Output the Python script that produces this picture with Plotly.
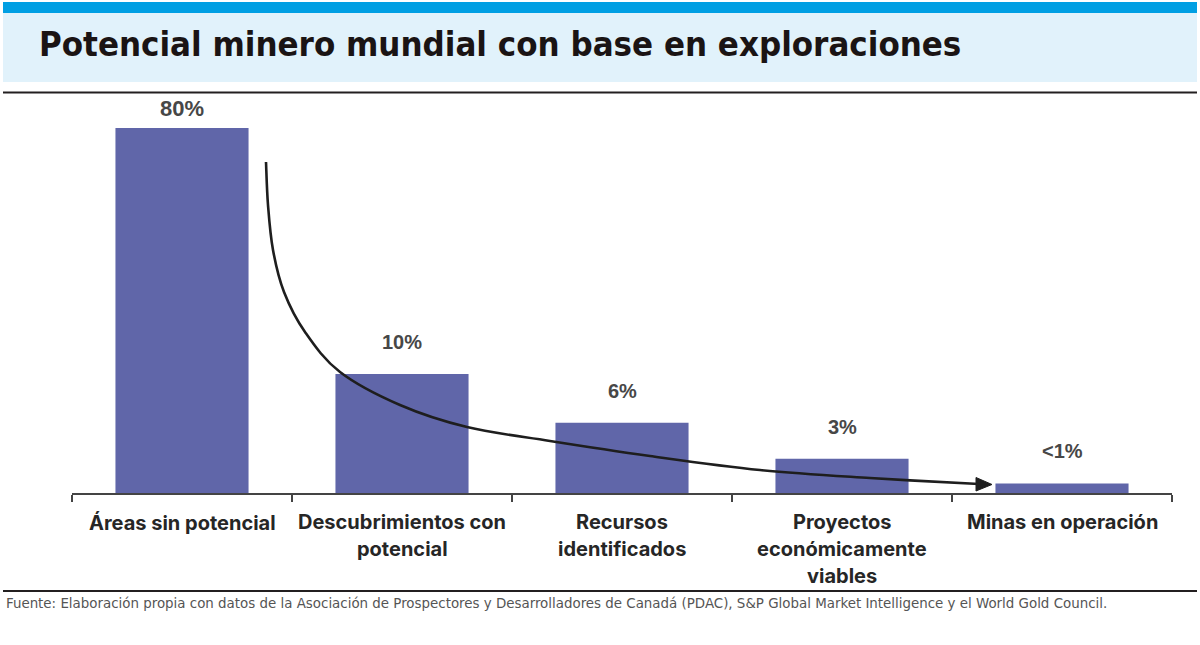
import plotly.graph_objects as go

# ---------------- data ----------------
categories = ["Áreas sin potencial", "Descubrimientos con potencial", "Recursos identificados",
              "Proyectos económicamente viables", "Minas en operación"]
category_lines = [["Áreas sin potencial"], ["Descubrimientos con", "potencial"],
                  ["Recursos", "identificados"], ["Proyectos", "económicamente", "viables"],
                  ["Minas en operación"]]
bar_heights = [80, 26.1, 15.4, 7.5, 2.1]      # drawn heights (chart is not to scale)
value_labels = ["80%", "10%", "6%", "3%", "<1%"]

title = "Potencial minero mundial con base en exploraciones"
source = ("Fuente: Elaboración propia con datos de la Asociación de Prospectores y Desarrolladores "
          "de Canadá (PDAC), S&P Global Market Intelligence y el World Gold Council.")

# ---------------- layout geometry ----------------
W, H = 1200, 645
L, R, T, B = 72, 28, 100, 152
PW, PH = W - L - R, H - T - B
YMAX = 80 * PH / 365.0


def px(x):
    return (x - L) / PW


def py(y):
    return (H - B - y) / PH


COND = "DejaVu Sans Condensed, DejaVu Sans, sans-serif"
BAR = "#6066A9"
fig = go.Figure()
fig.add_trace(go.Bar(x=categories, y=bar_heights, marker=dict(color=BAR, line=dict(width=0)),
                     hoverinfo="skip", showlegend=False))

shapes = []
shapes.append(dict(type="rect", xref="paper", yref="paper", x0=px(3), x1=px(1197), y0=py(13), y1=py(2),
                   fillcolor="#009FE3", line=dict(width=0), layer="below"))
shapes.append(dict(type="rect", xref="paper", yref="paper", x0=px(3), x1=px(1197), y0=py(82), y1=py(13),
                   fillcolor="#E1F2FB", line=dict(width=0), layer="below"))
for yy in (92.5, 591):
    shapes.append(dict(type="line", xref="paper", yref="paper", x0=px(3), x1=px(1197), y0=py(yy), y1=py(yy),
                       line=dict(color="#231F20", width=2)))

# curved arrow (Catmull-Rom through guide points, pixels)
pts = [(266, 162), (268, 205), (273, 250), (284, 292), (305, 332), (340, 372),
       (400, 405), (467, 427), (550, 441), (650, 456), (760, 470), (870, 478), (979, 484)]
path = "M %.5f,%.5f" % (px(pts[0][0]), py(pts[0][1]))
for i in range(len(pts) - 1):
    p0 = pts[i - 1] if i > 0 else pts[i]
    p1, p2 = pts[i], pts[i + 1]
    p3 = pts[i + 2] if i + 2 < len(pts) else pts[i + 1]
    c1 = (p1[0] + (p2[0] - p0[0]) / 6.0, p1[1] + (p2[1] - p0[1]) / 6.0)
    c2 = (p2[0] - (p3[0] - p1[0]) / 6.0, p2[1] - (p3[1] - p1[1]) / 6.0)
    path += " C %.5f,%.5f %.5f,%.5f %.5f,%.5f" % (px(c1[0]), py(c1[1]), px(c2[0]), py(c2[1]),
                                                   px(p2[0]), py(p2[1]))
shapes.append(dict(type="path", xref="paper", yref="paper", path=path,
                   line=dict(color="#1E1E1E", width=2.6)))
tri = "M %.5f,%.5f L %.5f,%.5f L %.5f,%.5f Z" % (px(992), py(484.5), px(976), py(477.5), px(976), py(491))
shapes.append(dict(type="path", xref="paper", yref="paper", path=tri,
                   fillcolor="#1E1E1E", line=dict(color="#1E1E1E", width=1)))

annotations = []
annotations.append(dict(text="<b>" + title + "</b>", xref="paper", yref="paper", x=px(37), y=py(44),
                        xanchor="left", yanchor="middle", showarrow=False,
                        font=dict(family=COND, size=34.5, color="#1A1414")))
annotations.append(dict(text=source, xref="paper", yref="paper", x=px(4), y=py(603),
                        xanchor="left", yanchor="middle", showarrow=False,
                        font=dict(family=COND, size=14.9, color="#555555")))
label_gap = [5, 19, 19, 19, 19]
for c, v, t, g in zip(categories, bar_heights, value_labels, label_gap):
    size = 22 if t == "80%" else 20
    annotations.append(dict(text="<b>" + t + "</b>", x=c, y=v, xref="x", yref="y", xanchor="center",
                            yanchor="bottom", yshift=g, showarrow=False,
                            font=dict(family="Liberation Sans, Arial, sans-serif", size=size,
                                      color="#474747")))
for c, lines in zip(categories, category_lines):
    for i, ln in enumerate(lines):
        annotations.append(dict(text="<b>" + ln + "</b>", x=c, y=0, xref="x", yref="paper",
                                xanchor="center", yanchor="middle", yshift=-29 - 27 * i, showarrow=False,
                                font=dict(family="Inter, sans-serif", size=20, color="#262626")))

fig.update_layout(
    width=W, height=H, margin=dict(l=L, r=R, t=T, b=B),
    paper_bgcolor="white", plot_bgcolor="white",
    bargap=0.395, shapes=shapes, annotations=annotations,
    xaxis=dict(type="category", showline=True, linecolor="#444444", linewidth=1.6,
               ticks="outside", tickson="boundaries", ticklen=7, tickwidth=1.6, tickcolor="#444444",
               showticklabels=False, showgrid=False, zeroline=False, fixedrange=True),
    yaxis=dict(range=[0, YMAX], visible=False, showgrid=False, zeroline=False, fixedrange=True),
)

fig.write_html("out.html", config={"displayModeBar": False},
               post_script="document.body.style.margin='0';")
